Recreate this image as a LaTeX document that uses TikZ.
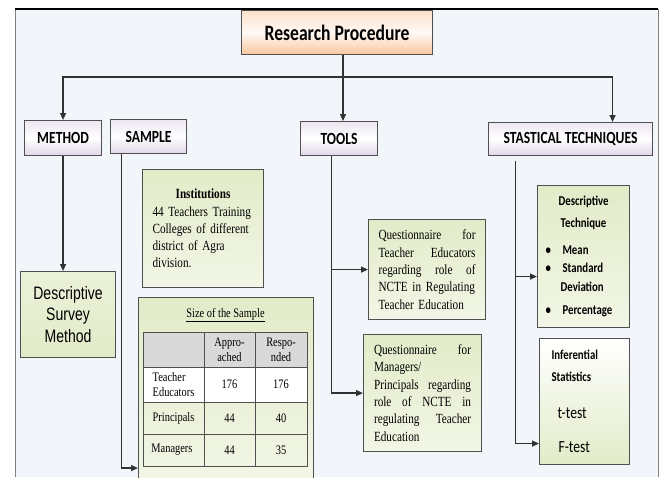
\documentclass[tikz,border=0pt]{standalone}
\usepackage{fontspec}
\usepackage{tikz}
\usetikzlibrary{arrows.meta,positioning,calc}
\newfontfamily\calfont[FakeStretch=0.8]{Carlito}
\newfontfamily\arialfont[FakeStretch=0.78]{Liberation Sans}
\newfontfamily\timesfont[FakeStretch=0.8]{Liberation Serif}
\definecolor{framebg}{RGB}{242,245,250}
\definecolor{peach}{RGB}{249,200,160}
\definecolor{lavender}{RGB}{226,214,233}
\definecolor{sage}{RGB}{226,235,200}
\definecolor{edgegray}{RGB}{80,80,80}
\definecolor{linegray}{RGB}{50,50,50}
\definecolor{headgray}{RGB}{217,217,217}
\tikzset{
  every node/.style={inner sep=0pt},
  titlebox/.style={draw=edgegray, line width=1.1pt, top color=peach!55, bottom color=peach, middle color=peach!12,
    anchor=north west, font=\calfont\bfseries\fontsize{22}{24}\selectfont},
  catbox/.style={draw=edgegray, line width=1.1pt, top color=lavender!60, bottom color=lavender, middle color=white,
    anchor=north west, font=\calfont\bfseries\fontsize{17}{20}\selectfont},
  greenbox/.style={draw=edgegray, line width=1.1pt, top color=sage, bottom color=sage!45, anchor=north west},
  serifpara/.style={font=\timesfont\fontsize{14}{17.3}\selectfont, align=left},
  cell/.style={font=\timesfont\fontsize{13}{15.5}\selectfont, align=left},
  tablerule/.style={draw=edgegray, line width=0.8pt},
  link/.style={draw=linegray, line width=1.3pt},
  arrowlink/.style={link, -{Triangle[length=7pt,width=6pt]}}
}

\begin{document}
\begin{tikzpicture}[x=1pt, y=-1pt]
  \useasboundingbox (0,0) rectangle (661,477);
  \fill[framebg] (15,9) rectangle (658,477);
  \draw[gray, line width=0.8pt] (15,477) -- (15,9) (658,9) -- (658,477);
  \draw[black, line width=1.2pt] (15,9) -- (658,9);

  \node[titlebox, minimum width=191pt, minimum height=44pt] (proc) at (241,10) {Research Procedure};

  \node[catbox, minimum width=77pt, minimum height=35pt] (method) at (24,120) {METHOD};
  \node[catbox, minimum width=76pt, minimum height=34pt] (sample) at (110,119) {SAMPLE};
  \node[catbox, minimum width=77pt, minimum height=34pt] (tools) at (300,121) {TOOLS};
  \node[catbox, minimum width=164pt, minimum height=33pt] (stats) at (488,122) {STASTICAL TECHNIQUES};

  \node[greenbox, top color=sage!70, bottom color=sage, minimum width=95pt, minimum height=86pt, align=center,
    font=\arialfont\fontsize{18}{21.5}\selectfont] (survey) at (20,271) {Descriptive\\Survey\\Method};

  \node[greenbox, minimum width=121pt, minimum height=118pt, text width=101pt, serifpara] (inst) at (142,169)
    {\hfill\textbf{Institutions}\hfill\null\\44 Teachers Training\\Colleges of different\\district of Agra\\division.};

  \node[greenbox, minimum width=175pt, minimum height=185pt] (sizebox) at (138,297) {};
  \node[font=\timesfont\fontsize{13}{15}\selectfont] (sizetitle) at (225.5,315) {\underline{Size of the Sample}};
  \fill[headgray] (143,332) rectangle (307,367);
  \fill[white] (143,367) rectangle (307,402);
  \draw[tablerule] (143,332) rectangle (307,466);
  \foreach \y in {367,402,434} \draw[tablerule] (143,\y) -- (307,\y);
  \foreach \x in {204,255} \draw[tablerule] (\x,332) -- (\x,466);
  \foreach \name/\x/\y/\txt in {appr/229.5/350/{\hfill Appro-\hfill\null\\\hfill ached\hfill\null},
      resp/281/350/{\hfill Respo-\hfill\null\\\hfill nded\hfill\null},
      teach/173.5/384.5/{Teacher\\Educators}, teachA/229.5/384.5/176, teachR/281/384.5/176,
      princ/173.5/418/Principals, princA/229.5/418/44, princR/281/418/40,
      manag/172/450/Managers, managA/229.5/450/44, managR/281/450/35}
    \node[cell] (\name) at (\x,\y) {\txt};

  \node[greenbox, minimum width=117pt, minimum height=100pt, text width=97pt, serifpara] (q1) at (368,219)
    {Questionnaire\hfill for\\Teacher\hfill Educators\\regarding\hfill role\hfill of\\NCTE in Regulating\\Teacher Education};
  \node[greenbox, minimum width=118pt, minimum height=117pt, text width=97pt, serifpara] (q2) at (363,334)
    {Questionnaire\hfill for\\Managers/\\Principals\hfill regarding\\role\hfill of\hfill NCTE\hfill in\\regulating\hfill Teacher\\Education};

  \node[greenbox, minimum width=92pt, minimum height=142pt, text width=76pt, align=left,
    font=\calfont\bfseries\fontsize{13.5}{18}\selectfont] (desc) at (537,185)
    {\hfill Descriptive\hfill\null\\[4pt]
     \hfill Technique\hfill\null\\[9pt]
     \makebox[17pt][l]{\textbullet}Mean\\
     \makebox[17pt][l]{\textbullet}Standard\\[1pt]
     \hspace*{15pt}Deviation\\[5pt]
     \makebox[17pt][l]{\textbullet}Percentage};
  \node[greenbox, top color=white, bottom color=sage, minimum width=90pt, minimum height=126pt, text width=66pt, align=left,
    font=\calfont\bfseries\fontsize{13.5}{22}\selectfont] (infer) at (539,338)
    {Inferential\\Statistics\\[15pt]{\mdseries\fontsize{17}{22}\selectfont\hspace*{6pt}t-test}\\[12pt]{\mdseries\fontsize{17}{22}\selectfont\hspace*{7pt}F-test}};

  \coordinate (hub) at (343,77);
  \draw[link] (proc.south -| hub) -- (hub);
  \draw[arrowlink] (hub) -| (method.north);
  \draw[arrowlink] (hub) -- (hub |- tools.north);
  \draw[arrowlink] (hub) -| ([xshift=42pt]stats.north);

  \draw[arrowlink] (method.south) -- (method.south |- survey.north);
  \draw[arrowlink] ([xshift=-27pt]sample.south) |- ([yshift=-78pt]sizebox.west);
  \draw[arrowlink] ([xshift=-7.5pt]tools.south) |- (q1.west);
  \draw[arrowlink] ([xshift=-7.5pt]tools.south) |- (q2.west);
  \draw[arrowlink] ([xshift=-55pt,yshift=-5pt]stats.south) |- ([yshift=-20pt]desc.west);
  \draw[arrowlink] ([xshift=-55pt,yshift=-5pt]stats.south) |- ([yshift=-42pt]infer.west);
\end{tikzpicture}
\end{document}
